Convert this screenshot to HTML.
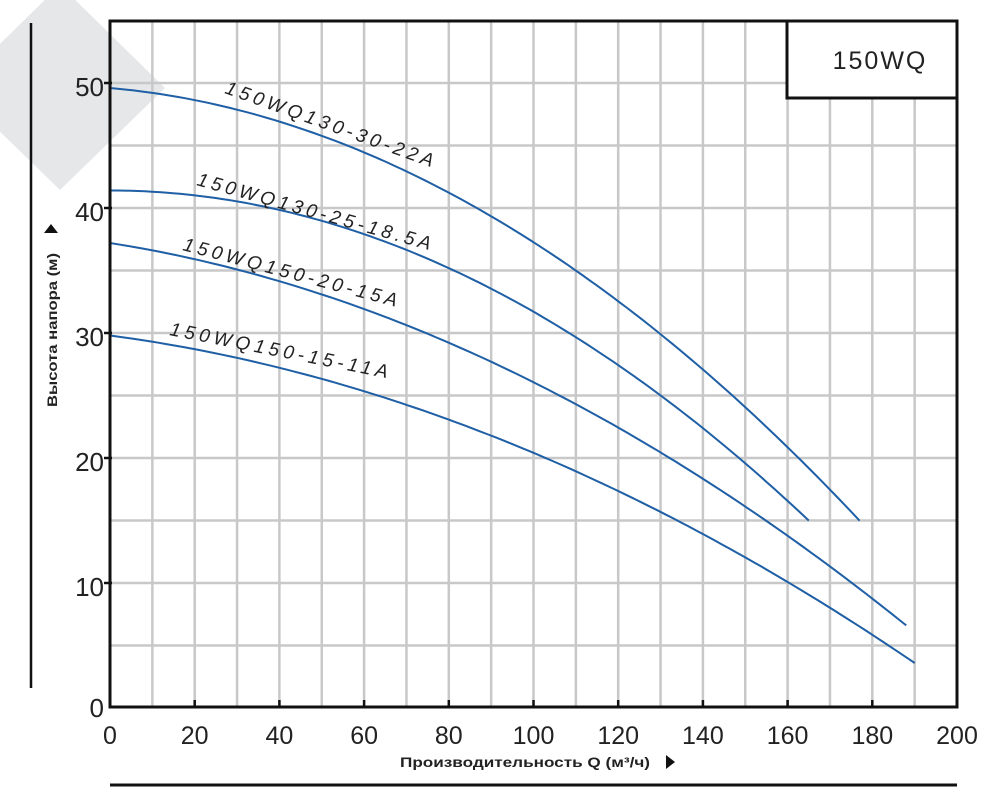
<!DOCTYPE html>
<html><head><meta charset="utf-8"><style>
html,body{margin:0;padding:0;background:#fff;}
svg{display:block;}
text{font-family:"Liberation Sans",sans-serif;}
</style></head><body>
<svg id="s" width="1000" height="798" viewBox="0 0 1000 798" xmlns="http://www.w3.org/2000/svg">
<polygon points="60,-15 165,88 60,190 -45,88" fill="#e6e7e9"/>
<g id="grid" stroke="#c8c8c8" stroke-width="2.5"></g>
<line x1="31" y1="23" x2="31" y2="688" stroke="#111" stroke-width="2.5"/>
<line x1="110" y1="785" x2="957" y2="785" stroke="#111" stroke-width="3"/>
<g id="curves" fill="none" stroke="#1f5fa5" stroke-width="2"></g>
<rect x="110" y="21" width="847" height="686" fill="none" stroke="#111" stroke-width="3"/>
<g id="ticks" stroke="#111" stroke-width="2.5"></g>
<rect x="787" y="21" width="170" height="77" fill="#fff" stroke="#111" stroke-width="3"/>
<text x="880" y="69" font-size="25" text-anchor="middle" letter-spacing="2" fill="#222">150WQ</text>
<g font-size="26" fill="#222" text-anchor="end">
<text x="104" y="96">50</text><text x="104" y="221">40</text><text x="104" y="346">30</text>
<text x="104" y="471">20</text><text x="104" y="596">10</text><text x="104" y="717">0</text>
</g>
<g id="xl" font-size="25" fill="#222" text-anchor="middle"></g>
<text x="400" y="767" font-size="14" font-weight="bold" fill="#222" textLength="250" lengthAdjust="spacingAndGlyphs">Производительность Q (м³/ч)</text>
<polygon points="666,755 666,769 675,762" fill="#111"/>
<text transform="translate(57,407) rotate(-90)" font-size="14" font-weight="bold" fill="#222" textLength="154" lengthAdjust="spacingAndGlyphs">Высота напора (м)</text>
<polygon points="44,233 58,233 51,224" fill="#111"/>
<g font-size="19" fill="#222" font-style="italic" style="font-family:'DejaVu Sans',sans-serif">
<text transform="translate(224,93) rotate(19.7)" textLength="220" lengthAdjust="spacing">150WQ130-30-22A</text>
<text transform="translate(196,185) rotate(15.6)" textLength="242" lengthAdjust="spacing">150WQ130-25-18.5A</text>
<text transform="translate(182,250) rotate(14.9)" textLength="221" lengthAdjust="spacing">150WQ150-20-15A</text>
<text transform="translate(169,335) rotate(11.2)" textLength="222" lengthAdjust="spacing">150WQ150-15-11A</text>
</g>
</svg>
<script>
var NS="http://www.w3.org/2000/svg";
function el(p,t,a){var e=document.createElementNS(NS,t);for(var k in a)e.setAttribute(k,a[k]);document.getElementById(p).appendChild(e);return e;}
function X(q){return 110+q*4.235;}function Y(h){return 708-h*12.5;}
for(var q=10;q<200;q+=10)el("grid","line",{x1:X(q),y1:21,x2:X(q),y2:707});
for(var h=5;h<55;h+=5)el("grid","line",{x1:110,y1:Y(h),x2:957,y2:Y(h)});
for(var h=10;h<=50;h+=10)el("ticks","line",{x1:104,y1:Y(h),x2:112,y2:Y(h)});
for(var q=20;q<200;q+=20)el("ticks","line",{x1:X(q),y1:700,x2:X(q),y2:708});
for(var q=0;q<=200;q+=20){var t=el("xl","text",{x:X(q),y:744});t.textContent=q;}
var C=[[49.6,0.0297,0.000937,177],[41.4,0,0.00097,165],[37.2,0.0531,0.000583,188],[29.8,0.045,0.000489,190]];
C.forEach(function(c){var d="";for(var i=0;i<=100;i++){var q=c[3]*i/100,h=c[0]-c[1]*q-c[2]*q*q;d+=(i?"L":"M")+X(q).toFixed(1)+","+Y(h).toFixed(1);}el("curves","path",{d:d});});
</script>
</body></html>
